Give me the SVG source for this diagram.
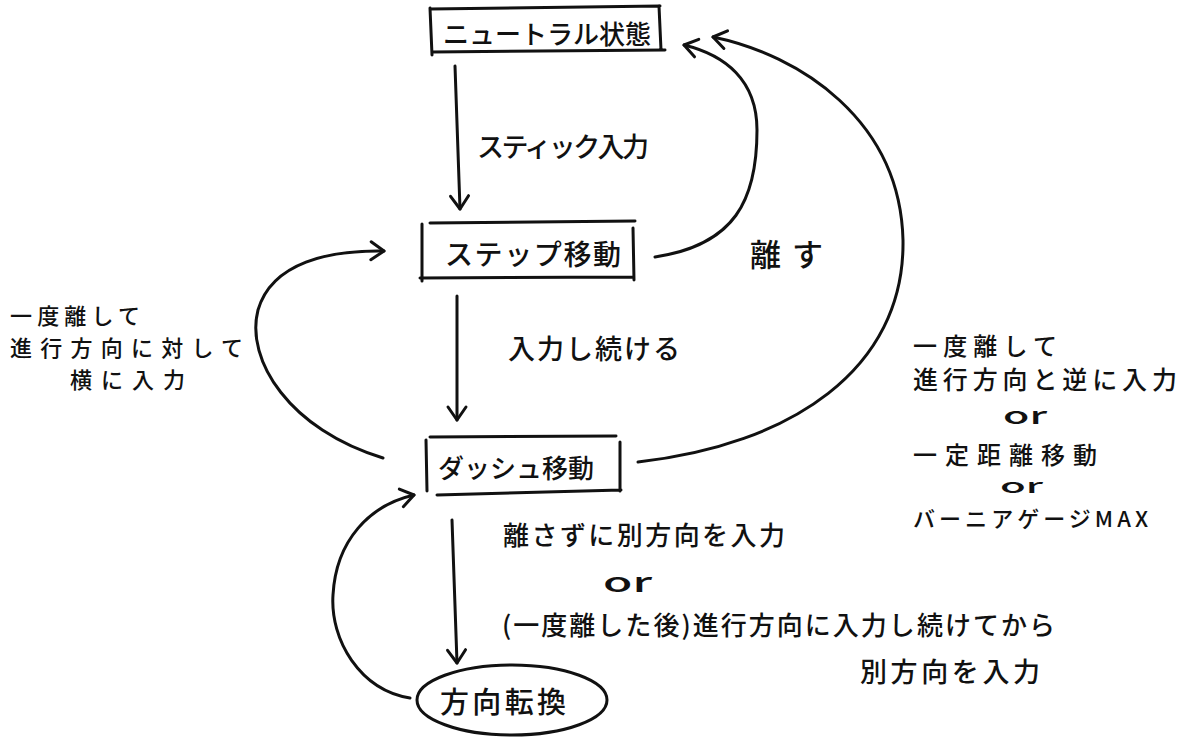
<svg xmlns="http://www.w3.org/2000/svg" width="1200" height="754" viewBox="0 0 1200 754">
<defs>
<style>
.ln{fill:none;stroke:#111;stroke-width:3;stroke-linecap:round;stroke-linejoin:round}
.t{font-family:"Noto Sans CJK JP","Noto Sans",sans-serif;fill:#111;dominant-baseline:central;font-weight:500}
</style>
<marker id="ah" markerUnits="userSpaceOnUse" orient="auto" overflow="visible" refX="0" refY="0" markerWidth="20" markerHeight="20">
<path d="M-13,-9 L0,0 L-13,9" fill="none" stroke="#111" stroke-width="3" stroke-linecap="round" stroke-linejoin="round"/>
</marker>
</defs>
<rect width="1200" height="754" fill="#fff"/>

<g id="node-neutral">
<path class="ln" d="M430,9 L660,6 M430,8 L432,55 M432,52 L665,50 M659,6 L661,50"/>
<text class="t" x="443" y="32" textLength="208" lengthAdjust="spacing" font-size="26">ニュートラル状態</text>
</g>
<g id="node-step">
<path class="ln" d="M430,223 L635,221 M422,224 L422,281 M633,228 L634,280 M420,278 L633,277"/>
<text class="t" x="445" y="253" textLength="176" lengthAdjust="spacing" font-size="28">ステップ移動</text>
</g>
<g id="node-dash">
<path class="ln" d="M430,437 L616,436 M426,440 L427,491 M620,442 L620,491 M437,495 L621,490"/>
<text class="t" x="438" y="466" textLength="156" lengthAdjust="spacing" font-size="26">ダッシュ移動</text>
</g>
<g id="node-turn">
<ellipse class="ln" cx="512" cy="700" rx="95" ry="35"/>
<text class="t" x="440" y="700" textLength="126" lengthAdjust="spacing" font-size="29">方向転換</text>
</g>

<g id="connectors">
<path class="ln" d="M455,66 L460,209" marker-end="url(#ah)"/>
<path class="ln" d="M655,257 C735,245 757,200 757,130 C757,80 725,55 684,45" marker-end="url(#ah)"/>
<path class="ln" d="M638,462 C790,445 905,370 903,240 C900,120 800,55 713,37" marker-end="url(#ah)"/>
<path class="ln" d="M383,458 C290,430 245,360 258,310 C272,262 330,250 384,251" marker-end="url(#ah)"/>
<path class="ln" d="M457,296 L457,420" marker-end="url(#ah)"/>
<path class="ln" d="M452,520 L457,663" marker-end="url(#ah)"/>
<path class="ln" d="M410,698 C360,690 330,640 333,595 C336,540 370,505 414,495" marker-end="url(#ah)"/>
</g>

<g id="labels">
<text class="t" x="477" y="145" textLength="172" lengthAdjust="spacing" font-size="27">スティック入力</text>
<text class="t" x="750" y="252" textLength="73" lengthAdjust="spacing" font-size="31">離す</text>
<text class="t" x="508" y="347" textLength="172" lengthAdjust="spacing" font-size="27">入力し続ける</text>

<text class="t" x="10" y="314" textLength="130" lengthAdjust="spacing" font-size="22">一度離して</text>
<text class="t" x="10" y="346" textLength="233" lengthAdjust="spacing" font-size="22">進行方向に対して</text>
<text class="t" x="70" y="378" textLength="115" lengthAdjust="spacing" font-size="22">横に入力</text>

<text class="t" x="913" y="344" textLength="144" lengthAdjust="spacing" font-size="24">一度離して</text>
<text class="t" x="913" y="378" textLength="264" lengthAdjust="spacing" font-size="25">進行方向と逆に入力</text>
<text class="t" x="1003" y="413" textLength="44" lengthAdjust="spacingAndGlyphs" font-size="24">or</text>
<text class="t" x="913" y="453" textLength="184" lengthAdjust="spacing" font-size="24">一定距離移動</text>
<text class="t" x="1000" y="484" textLength="43" lengthAdjust="spacingAndGlyphs" font-size="20">or</text>
<text class="t" x="913" y="517" textLength="235" lengthAdjust="spacing" font-size="22">バーニアゲージMAX</text>

<text class="t" x="503" y="533" textLength="282" lengthAdjust="spacing" font-size="26">離さずに別方向を入力</text>
<text class="t" x="603" y="580" textLength="49" lengthAdjust="spacingAndGlyphs" font-size="26">or</text>
<text class="t" x="502" y="623" textLength="553" lengthAdjust="spacing" font-size="26">(一度離した後)進行方向に入力し続けてから</text>
<text class="t" x="860" y="670" textLength="180" lengthAdjust="spacing" font-size="27">別方向を入力</text>
</g>
</svg>
